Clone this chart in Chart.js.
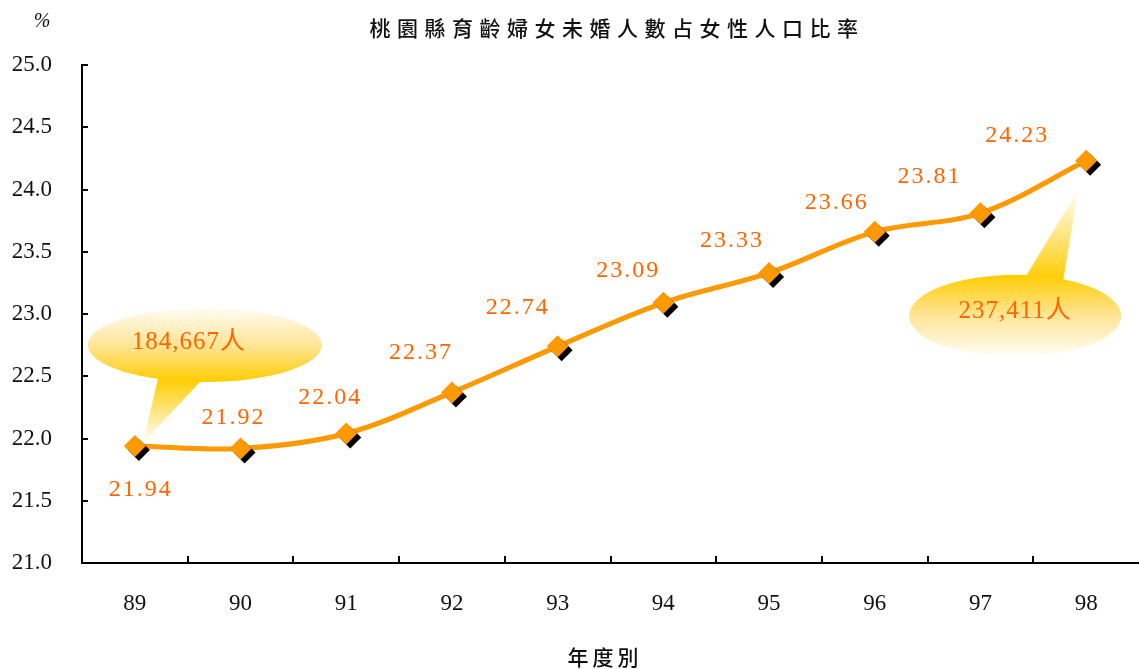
<!DOCTYPE html>
<html>
<head>
<meta charset="utf-8">
<script src="https://cdn.jsdelivr.net/npm/chart.js@4.4.0/dist/chart.umd.min.js"></script>
<style>
  html, body { margin: 0; padding: 0; background: #fff; overflow: hidden; }
  #contenedor { width: 1139px; height: 669px; }
  canvas { display: block; }
</style>
</head>
<body>
<div id="contenedor"><canvas id="grafico"></canvas></div>
<script>
// datos del grafico
var anios = ["89", "90", "91", "92", "93", "94", "95", "96", "97", "98"];
var tasas = [21.94, 21.92, 22.04, 22.37, 22.74, 23.09, 23.33, 23.66, 23.81, 24.23];
var poblacionInicio = "184,667人";
var poblacionFin = "237,411人";
var titulo = "桃園縣育齡婦女未婚人數占女性人口比率";
var tituloX = "年度別";
var unidadY = "%";
var ejeYMin = 21.0;
var ejeYMax = 25.0;
var ejeYPaso = 0.5;

// desplazamiento de cada etiqueta respecto a su punto (px)
var desplazamientos = [[6, 44], [-7, -31], [-16, -36], [-31, -40], [-40, -39],
  [-35, -32], [-37, -32], [-38, -29], [-51, -36], [-69, -25]];

var serif = "'Liberation Serif', 'Times New Roman', 'Noto Sans CJK TC', serif";
var cjk = "'Noto Sans CJK TC', 'Noto Sans CJK SC', sans-serif";
var naranja = "#FF9900";
var textoNaranja = "#FF6600";

function globo(ctx, cx, cy, rx, ry, base1, base2, punta, arriba) {
  // cola
  var gCola = ctx.createLinearGradient(0, base1[1], 0, punta[1]);
  gCola.addColorStop(0, "#FFCC00");
  gCola.addColorStop(1, "rgba(255,255,255,1)");
  ctx.beginPath();
  ctx.moveTo(base1[0], base1[1]);
  ctx.lineTo(base2[0], base2[1]);
  ctx.lineTo(punta[0], punta[1]);
  ctx.closePath();
  ctx.fillStyle = gCola;
  ctx.fill();
  // elipse
  var g = ctx.createLinearGradient(0, cy - ry, 0, cy + ry);
  if (arriba) {
    g.addColorStop(0, "#FFCC00");
    g.addColorStop(0.5, "#FFE597");
    g.addColorStop(1, "#FFFDF7");
  } else {
    g.addColorStop(0, "#FFFCF4");
    g.addColorStop(0.5, "#FFE597");
    g.addColorStop(1, "#FFCC00");
  }
  ctx.beginPath();
  ctx.ellipse(cx, cy, rx, ry, 0, 0, Math.PI * 2);
  ctx.fillStyle = g;
  ctx.fill();
}

var extras = {
  id: "extras",
  beforeDatasetsDraw: function (chart) {
    var ctx = chart.ctx;
    var pts = chart.getDatasetMeta(1).data;
    var p0 = pts[0], p9 = pts[pts.length - 1];
    ctx.save();
    globo(ctx, p0.x + 70, p0.y - 101, 117, 37,
      [p0.x + 23, p0.y - 67], [p0.x + 68, p0.y - 67], [p0.x + 8, p0.y - 3], false);
    globo(ctx, p9.x - 71, p9.y + 155, 106, 41,
      [p9.x - 63, p9.y + 120], [p9.x - 23, p9.y + 120], [p9.x - 8, p9.y + 29], true);
    ctx.fillStyle = textoNaranja;
    ctx.font = "25px " + serif;
    ctx.textAlign = "center";
    ctx.textBaseline = "middle";
    ctx.letterSpacing = "1px";
    ctx.fillText(poblacionInicio, p0.x + 54, p0.y - 104);
    ctx.fillText(poblacionFin, p9.x - 71, p9.y + 151);
    ctx.restore();
  },
  beforeDatasetDraw: function (chart, args) {
    if (args.index === 1) {
      var ctx = chart.ctx;
      ctx.save();
      ctx.shadowColor = "#000";
      ctx.shadowOffsetX = 4;
      ctx.shadowOffsetY = 4;
      ctx.shadowBlur = 0;
    }
  },
  afterDatasetDraw: function (chart, args) {
    if (args.index === 1) chart.ctx.restore();
  },
  afterDatasetsDraw: function (chart) {
    var ctx = chart.ctx;
    var pts = chart.getDatasetMeta(1).data;
    ctx.save();
    ctx.fillStyle = textoNaranja;
    ctx.font = "24px " + serif;
    ctx.textAlign = "center";
    ctx.textBaseline = "middle";
    ctx.letterSpacing = "2px";
    for (var i = 0; i < pts.length; i++) {
      ctx.fillText(tasas[i].toFixed(2), pts[i].x + desplazamientos[i][0], pts[i].y + desplazamientos[i][1]);
    }
    ctx.restore();
  },
  afterDraw: function (chart) {
    var ctx = chart.ctx;
    var area = chart.chartArea;
    var sx = chart.scales.x, sy = chart.scales.y;
    ctx.save();
    // marcas interiores de los ejes
    ctx.strokeStyle = "#000";
    ctx.lineWidth = 2;
    ctx.beginPath();
    sy.ticks.forEach(function (t) {
      var y = Math.round(sy.getPixelForValue(t.value));
      ctx.moveTo(area.left, y);
      ctx.lineTo(area.left + 6, y);
    });
    for (var i = 0; i < anios.length - 1; i++) {
      var x = Math.round((sx.getPixelForValue(i) + sx.getPixelForValue(i + 1)) / 2);
      ctx.moveTo(x, area.bottom);
      ctx.lineTo(x, area.bottom - 7);
    }
    ctx.stroke();
    // titulos
    ctx.fillStyle = "#111";
    ctx.textAlign = "center";
    ctx.textBaseline = "middle";
    ctx.font = "500 21px " + cjk;
    ctx.letterSpacing = "6.5px";
    ctx.fillText(titulo, 617, 28);
    ctx.letterSpacing = "4px";
    ctx.fillText(tituloX, 605, 657);
    ctx.letterSpacing = "0px";
    ctx.font = "italic 20px " + serif;
    ctx.fillText(unidadY, 42, 22);
    ctx.restore();
  }
};

new Chart(document.getElementById("grafico"), {
  type: "line",
  data: {
    labels: anios,
    datasets: [{
      label: "tasa",
      data: tasas,
      borderColor: naranja,
      borderWidth: 5,
      tension: 0.35,
      pointRadius: 0,
      fill: false,
      order: 2
    }, {
      label: "puntos",
      data: tasas,
      showLine: false,
      pointStyle: "rectRot",
      pointRadius: 11,
      pointBackgroundColor: naranja,
      pointBorderWidth: 0,
      order: 1
    }]
  },
  options: {
    responsive: true,
    maintainAspectRatio: false,
    animation: false,
    layout: { autoPadding: false, padding: { left: 0, right: 0, top: 65, bottom: 0 } },
    plugins: {
      legend: { display: false },
      tooltip: { enabled: false },
      title: { display: false }
    },
    scales: {
      x: {
        offset: true,
        grid: { display: false, drawTicks: false },
        border: { display: true, color: "#000", width: 2 },
        ticks: { color: "#111", font: { family: serif, size: 23 }, padding: 27 },
        afterFit: function (s) { s.height = 106; s.paddingLeft = 0; s.paddingRight = 0; }
      },
      y: {
        min: ejeYMin,
        max: ejeYMax,
        grid: { display: false, drawTicks: false },
        border: { display: true, color: "#000", width: 2 },
        ticks: {
          stepSize: ejeYPaso,
          color: "#111",
          font: { family: serif, size: 23 },
          padding: 30,
          callback: function (v) { return v.toFixed(1); }
        },
        afterFit: function (s) { s.width = 82; }
      }
    }
  },
  plugins: [extras]
});
</script>
</body>
</html>
